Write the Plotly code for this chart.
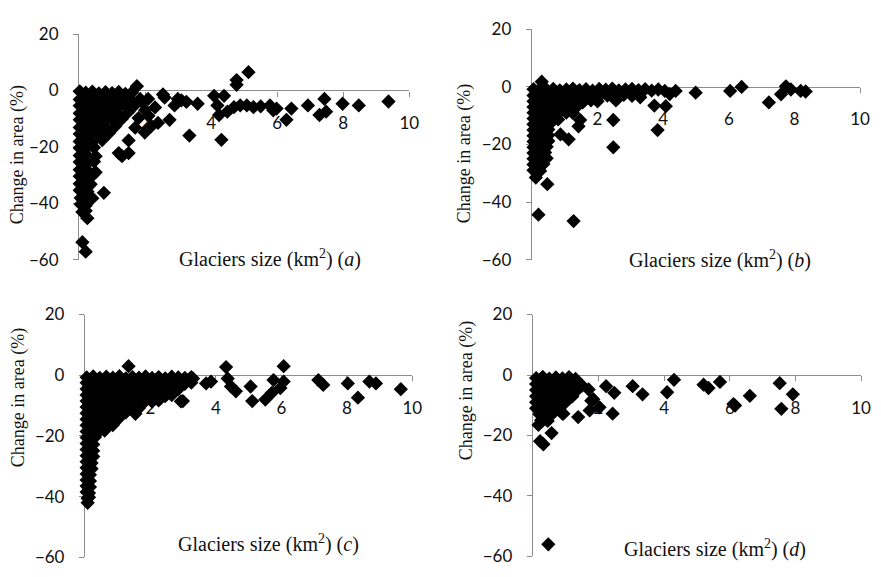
import plotly.graph_objects as go

# ---------------- data (glacier size km2, change in area %) ----------------
size_a = [
    0.02, 0.2, 0.4, 0.6, 0.8, 1.0, 1.2, 1.4, 1.6,
    0.02, 0.2, 0.4, 0.6, 0.8, 1.0, 1.2, 1.4, 1.6, 1.85,
    0.02, 0.2, 0.4, 0.6, 0.8, 1.0, 1.2, 1.4, 1.7,
    0.02, 0.2, 0.4, 0.6, 0.8, 1.0, 1.2, 1.5,
    0.02, 0.2, 0.4, 0.6, 0.8, 1.0, 1.3,
    0.02, 0.2, 0.4, 0.6, 0.8, 1.1,
    0.02, 0.2, 0.4, 0.6, 0.9,
    0.02, 0.2, 0.4, 0.7,
    0.02, 0.2, 0.45,
    0.02, 0.2, 0.5,
    0.02, 0.25, 0.45,
    0.02, 0.2, 0.5,
    0.02, 0.25, 0.4,
    0.02, 0.2, 0.35,
    0.02, 0.25,
    0.05, 0.25, 0.4,
    0.05, 0.2,
    0.1, 0.2,
    1.75, 1.9, 2.09, 2.54, 2.59, 2.89, 2.99, 3.1, 3.25, 3.59, 2.74, 2.39, 2.19, 1.99,
    1.8, 1.7, 2.0, 2.3, 2.1, 1.5, 1.5, 1.2, 1.3, 0.75, 0.25, 0.1, 0.2,
    3.34, 4.31, 4.09, 4.39, 4.19, 4.49, 4.24, 4.69, 4.77, 4.77, 5.13, 4.88, 5.08, 5.28,
    5.5, 5.78, 5.98, 5.88, 6.28, 6.43, 6.93, 7.43, 7.28, 7.48, 7.98, 8.47, 9.37,
]
change_a = [
    -0.3, -0.8, -0.4, -1.0, -0.6, -0.9, -0.5, -1.2, -0.7,
    -3.2, -2.8, -3.4, -2.9, -3.1, -2.6, -3.3, -2.7, -3.5, -3.0,
    -5.4, -5.8, -5.2, -5.6, -5.9, -5.3, -5.7, -5.5, -5.0,
    -8.1, -7.8, -8.3, -7.9, -8.2, -7.7, -8.4, -7.5,
    -10.4, -10.8, -10.3, -10.6, -10.9, -10.2, -10.0,
    -13.1, -12.8, -13.3, -12.9, -13.2, -12.6,
    -15.4, -15.8, -15.3, -15.6, -15.2,
    -18.1, -17.8, -18.3, -17.6,
    -20.4, -20.8, -20.2,
    -23.1, -22.7, -23.3,
    -25.4, -25.8, -25.2,
    -28.1, -27.8, -29.0,
    -30.4, -30.8, -30.2,
    -33.1, -32.7, -33.3,
    -35.4, -35.8,
    -38.1, -37.7, -38.2,
    -40.4, -40.8,
    -43.1, -42.7,
    1.5, -4.0, -3.0, -1.4, -2.5, -5.3, -3.0, -3.5, -4.0, -4.7, -10.4, -11.5, -12.6, -14.9,
    -9.8, -13.2, -7.0, -6.0, -9.0, -17.7, -22.2, -22.2, -23.3, -36.3, -45.3, -53.8, -57.2,
    -16.0, -17.5, -1.9, -1.9, -5.3, -7.5, -8.7, -5.9, 2.0, 3.7, 6.5, -5.3, -5.3, -5.9,
    -5.6, -5.3, -6.4, -7.0, -10.4, -6.4, -5.3, -3.0, -8.7, -7.5, -4.7, -5.3, -3.9,
]

size_b = [
    0.05, 0.25, 0.45, 0.65, 0.85, 1.05, 1.25, 1.45, 1.65, 1.85, 2.05, 2.25, 2.45, 2.65, 2.85, 3.05, 3.25, 3.45, 3.65, 3.85, 4.05,
    0.05, 0.3, 0.55, 0.8, 1.05, 1.3, 1.55, 1.8, 2.05, 2.3, 2.55, 2.8, 3.05, 3.3,
    0.05, 0.3, 0.55, 0.8, 1.05, 1.3, 1.55, 1.8, 2.0, 2.56,
    0.05, 0.3, 0.55, 0.8, 1.05, 1.35,
    0.05, 0.3, 0.55, 0.8, 1.05, 1.25,
    0.05, 0.3, 0.55, 0.8, 1.47,
    0.05, 0.3, 0.55, 1.42,
    0.05, 0.3, 0.5,
    0.05, 0.3, 0.5, 0.87, 1.12,
    0.05, 0.3, 0.5,
    0.05, 0.25, 0.45,
    0.05, 0.25, 0.4,
    0.05, 0.25, 0.45,
    0.05, 0.25, 0.35,
    0.05, 0.25,
    0.12, 0.47, 0.2, 1.27, 0.3,
    2.48, 2.48, 3.73, 3.83, 4.08, 4.2, 4.38, 4.99, 6.04, 6.39, 7.22, 7.59, 7.74, 7.89, 8.19, 8.34,
]
change_b = [
    -0.8, -0.6, -1.0, -0.7, -1.2, -0.9, -0.6, -1.1, -0.8, -1.3, -0.7, -1.0, -0.6, -1.2, -0.9, -0.7, -1.1, -0.8, -1.3, -0.9, -1.4,
    -3.0, -3.3, -2.8, -3.1, -3.4, -2.9, -3.2, -2.7, -3.3, -3.0, -3.5, -2.8, -3.1, -3.6,
    -5.0, -5.2, -4.8, -5.3, -4.9, -5.1, -5.4, -4.7, -5.0, -4.7,
    -7.0, -7.2, -6.8, -7.3, -6.9, -7.1,
    -9.0, -9.2, -8.8, -9.3, -8.9, -9.1,
    -11.0, -11.2, -10.8, -11.3, -11.5,
    -13.0, -13.2, -12.8, -13.7,
    -15.0, -15.2, -14.8,
    -17.0, -17.2, -16.8, -16.5, -18.2,
    -19.0, -19.2, -18.8,
    -21.0, -21.2, -20.8,
    -23.0, -23.2, -22.8,
    -25.0, -25.2, -24.8,
    -27.0, -27.2, -26.8,
    -29.0, -29.2,
    -31.5, -33.8, -44.4, -46.6, 1.8,
    -11.5, -21.0, -6.5, -15.0, -6.7, -2.5, -1.4, -2.0, -1.4, 0.0, -5.4, -2.6, 0.2, -0.9, -1.4, -1.6,
]

size_c = [
    0.05, 0.25, 0.45, 0.65, 0.85, 1.05, 1.25, 1.45, 1.65, 1.85, 2.05, 2.25, 2.45, 2.65, 2.85, 3.05, 3.25,
    0.05, 0.25, 0.45, 0.65, 0.85, 1.05, 1.25, 1.45, 1.65, 1.85, 2.05, 2.25, 2.45, 2.65, 2.85, 3.05, 3.25,
    0.05, 0.25, 0.45, 0.65, 0.85, 1.05, 1.25, 1.45, 1.65, 1.85, 2.05, 2.25, 2.45, 2.65, 2.85,
    0.05, 0.25, 0.45, 0.65, 0.85, 1.05, 1.25, 1.45, 1.65, 1.85, 2.05, 2.25, 2.45, 2.65,
    0.05, 0.25, 0.45, 0.65, 0.85, 1.05, 1.25, 1.45, 1.65, 1.85, 2.05, 2.25, 2.93,
    0.05, 0.25, 0.45, 0.65, 0.85, 1.05, 1.25, 1.45, 1.65,
    0.05, 0.25, 0.45, 0.65, 0.85, 1.05, 1.25, 1.54,
    0.05, 0.25, 0.45, 0.65, 0.85, 1.05,
    0.05, 0.25, 0.45, 0.65, 0.85,
    0.05, 0.25, 0.45, 0.6,
    0.05, 0.3,
    0.05, 0.25,
    0.05, 0.25,
    0.05, 0.25,
    0.05, 0.2,
    0.05, 0.2,
    0.05, 0.15,
    0.05, 0.15,
    0.05, 0.15,
    0.05, 0.12,
    0.08, 0.12,
    0.08,
    1.33, 2.99, 3.30, 3.70, 3.85, 4.31, 4.36, 4.46, 4.61, 5.06, 5.11, 5.51, 5.71, 5.76,
    5.97, 6.07, 6.07, 7.13, 7.28, 8.03, 8.34, 8.69, 8.89, 9.65,
]
change_c = [
    -0.7, -0.4, -0.9, -0.5, -0.8, -0.3, -1.0, -0.6, -0.8, -0.4, -0.9, -0.6, -1.0, -0.5, -0.7, -0.9, -0.6,
    -2.5, -2.8, -2.3, -2.7, -2.4, -2.9, -2.2, -2.6, -2.8, -2.4, -2.7, -2.3, -2.9, -2.5, -2.6, -2.8, -2.4,
    -4.5, -4.8, -4.3, -4.7, -4.4, -4.9, -4.2, -4.6, -4.8, -4.4, -4.7, -4.3, -4.9, -4.5, -4.6,
    -6.5, -6.8, -6.3, -6.7, -6.4, -6.9, -6.2, -6.6, -6.8, -6.4, -6.7, -6.3, -6.9, -6.5,
    -8.5, -8.8, -8.3, -8.7, -8.4, -8.9, -8.2, -8.6, -8.8, -8.4, -8.7, -8.3, -8.6,
    -10.5, -10.8, -10.3, -10.7, -10.4, -10.9, -10.2, -10.6, -10.8,
    -12.5, -12.8, -12.3, -12.7, -12.4, -12.9, -12.2, -12.7,
    -14.5, -14.8, -14.3, -14.7, -14.4, -14.0,
    -16.5, -16.8, -16.3, -16.7, -16.4,
    -18.5, -18.8, -18.3, -18.2,
    -20.5, -20.4,
    -22.5, -22.8,
    -24.5, -24.9,
    -26.5, -26.8,
    -28.5, -28.9,
    -30.5, -30.8,
    -32.5, -32.8,
    -34.5, -34.8,
    -36.5, -36.8,
    -38.5, -38.8,
    -40.5, -40.2,
    -42.0,
    3.0, -8.5, -1.1, -2.7, -2.1, 2.7, -1.1, -3.7, -5.3, -3.7, -8.5, -8.0, -5.8, -1.6,
    -4.2, -2.1, 3.0, -1.6, -3.2, -2.7, -7.4, -2.1, -2.7, -4.6,
]

size_d = [
    0.1, 0.3, 0.5, 0.7, 0.9, 1.1, 1.3,
    0.1, 0.3, 0.5, 0.7, 0.9, 1.1, 1.3, 1.5,
    0.1, 0.3, 0.5, 0.7, 0.9, 1.1, 1.35, 1.7,
    0.1, 0.3, 0.5, 0.7, 0.9, 1.2,
    0.1, 0.3, 0.5, 0.7, 1.0,
    0.1, 0.3, 0.5, 0.8,
    0.2, 0.4, 0.6, 0.9,
    0.25, 0.45,
    0.17, 0.22, 0.32, 0.57, 0.47,
    0.93, 1.38, 1.73, 1.78, 2.03, 1.84, 2.23, 2.43, 2.48, 3.04, 3.34, 4.09, 4.30,
    5.20, 5.35, 5.70, 6.11, 6.16, 6.61, 7.52, 7.57, 7.92,
]
change_d = [
    -1.0, -0.6, -1.2, -0.8, -1.1, -0.7, -1.3,
    -3.0, -3.3, -2.8, -3.1, -3.4, -2.9, -3.2, -3.5,
    -5.0, -5.2, -4.8, -5.3, -4.9, -5.1, -5.0, -4.8,
    -7.0, -7.2, -6.8, -7.3, -6.9, -7.1,
    -9.0, -9.2, -8.8, -9.3, -9.0,
    -11.0, -11.2, -10.8, -11.0,
    -13.0, -13.2, -12.8, -12.8,
    -15.0, -15.2,
    -16.5, -21.9, -22.9, -19.2, -56.0,
    -12.8, -13.9, -11.7, -8.5, -10.7, -8.0, -3.7, -12.8, -5.9, -3.7, -6.4, -5.7, -1.6,
    -3.2, -4.3, -2.3, -9.6, -10.1, -6.9, -2.7, -11.2, -6.4,
]

panel_letters = ["a", "b", "c", "d"]
x_tick_values = [2, 4, 6, 8, 10]
y_tick_values = [20, 0, -20, -40, -60]
y_title = "Change in area (%)"
x_title = "Glaciers size (km<sup>2</sup>) (<i>{}</i>)"

# ---------------- layout / styling ----------------
W, H = 881, 577


def px(x):
    return x / W


def py(y):
    return 1 - y / H


series = [(size_a, change_a), (size_b, change_b), (size_c, change_c), (size_d, change_d)]
# plot areas in window pixels: (left, right, top, bottom)
boxes = [(80, 414, 24, 258), (538, 870, 19, 258), (86, 417, 315, 567), (539, 871, 315, 566)]
ytitle_pos = [(18, 149), (470, 148), (19, 401), (472, 394)]
xtitle_pos = [(273, 257), (728, 258), (272, 553), (723, 558)]

AXIS_GREY = "#8c8c8c"
TICK_FONT = dict(family="Lato, Open Sans, sans-serif", size=17, color="#111111")
YTITLE_FONT = dict(family="Liberation Serif, Times New Roman, serif", size=18, color="#111111")
XTITLE_FONT = dict(family="Liberation Serif, Times New Roman, serif", size=20, color="#111111")

fig = go.Figure()
annotations = []
for i, ((xs, ys), (l, r, t, b)) in enumerate(zip(series, boxes)):
    n = "" if i == 0 else str(i + 1)
    xd = [px(l), px(r)]
    yd = [py(b), py(t)]
    ypos0 = yd[0] + 0.75 * (yd[1] - yd[0])  # where y = 0 sits
    fig.add_trace(go.Scatter(
        x=xs, y=ys, mode="markers", xaxis="x" + n, yaxis="y" + n,
        marker=dict(symbol="diamond", size=11, color="black", line=dict(width=0)),
        cliponaxis=False, showlegend=False, hoverinfo="x+y",
    ))
    fig.update_layout(**{
        "xaxis" + n: dict(
            domain=xd, range=[0, 10], anchor="free", position=ypos0,
            tickvals=x_tick_values, showline=True, linecolor=AXIS_GREY, linewidth=1.3,
            ticks="outside", ticklen=5, tickcolor=AXIS_GREY, tickwidth=1.3,
            ticklabelstandoff=12, tickfont=TICK_FONT, showgrid=False, zeroline=False,
            layer="below traces", fixedrange=True,
        ),
        "yaxis" + n: dict(
            domain=yd, range=[-60, 20], anchor="x" + n,
            tickvals=y_tick_values, showline=True, linecolor=AXIS_GREY, linewidth=1.3,
            ticks="outside", ticklen=5, tickcolor=AXIS_GREY, tickwidth=1.3,
            ticklabelstandoff=11, tickfont=TICK_FONT, showgrid=False, zeroline=False,
            layer="below traces", fixedrange=True,
        ),
    })
    tx, ty = ytitle_pos[i]
    annotations.append(dict(
        text=y_title, xref="paper", yref="paper", x=px(tx), y=py(ty),
        xanchor="center", yanchor="middle", textangle=-90, showarrow=False, font=YTITLE_FONT,
    ))
    tx, ty = xtitle_pos[i]
    annotations.append(dict(
        text=x_title.format(panel_letters[i]), xref="paper", yref="paper", x=px(tx), y=py(ty),
        xanchor="center", yanchor="middle", showarrow=False, font=XTITLE_FONT,
    ))

fig.update_layout(
    width=W, height=H, margin=dict(l=0, r=0, t=0, b=0),
    paper_bgcolor="white", plot_bgcolor="white", annotations=annotations,
)
fig.write_html(
    "out.html",
    config={"displayModeBar": False},
    post_script=(
        "document.documentElement.style.margin='0';document.body.style.margin='0';"
        "document.documentElement.style.overflow='hidden';document.body.style.overflow='hidden';"
        "var gd=document.getElementById('{plot_id}');"
        "gd.style.position='fixed';gd.style.left='0px';gd.style.top='0px';"
    ),
)
